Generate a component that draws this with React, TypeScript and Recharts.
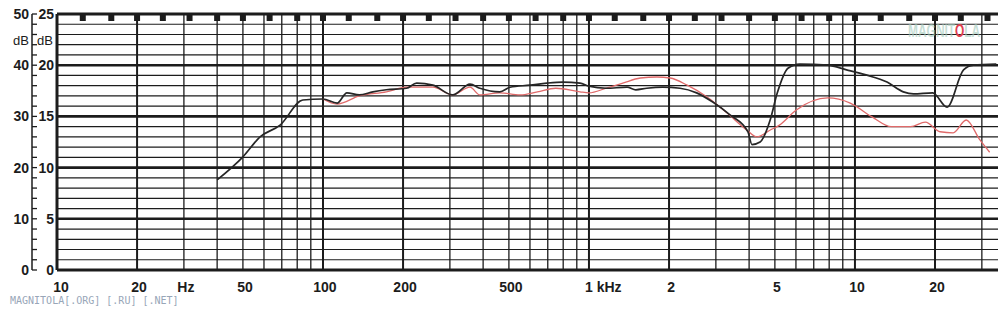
import { LineChart, Line, XAxis, YAxis, ReferenceLine } from "recharts";

// black trace (Hz / dB)
const blackHz = [40, 50, 58, 69, 84, 100, 113, 123, 137, 154, 173, 206, 225, 259, 307, 357, 389, 462, 505, 600, 695, 798, 925, 1000, 1160, 1390, 1500, 1650, 1890, 2200, 2540, 2920, 3390, 3960, 4100, 4400, 4800, 5100, 5600, 6200, 7900, 9300, 11000, 13200, 15200, 16600, 19600, 22200, 25600, 27900, 34000];
const blackDb = [17.6, 22.1, 26, 28.3, 33.2, 33.4, 32.6, 34.6, 34.2, 34.8, 35.2, 35.5, 36.5, 36.1, 34.2, 36.3, 35.5, 34.8, 35.7, 36.1, 36.5, 36.7, 36.5, 35.9, 35.5, 35.7, 35.2, 35.5, 35.7, 35.5, 34.6, 32.8, 30.3, 27, 24.5, 25, 29.3, 34.5, 39.4, 40.2, 40, 39.1, 38.1, 36.7, 34.8, 34.4, 34.6, 31.8, 39.1, 40, 40.2];

// red trace
const redHz = [100, 113, 137, 173, 206, 259, 307, 357, 389, 462, 550, 640, 750, 925, 1000, 1160, 1340, 1560, 1800, 2020, 2340, 2780, 3300, 3930, 4280, 4790, 5200, 6000, 7900, 9600, 11600, 13700, 16200, 18400, 20900, 23400, 26200, 29500, 32100];
const redDb = [33.4, 32.4, 34, 34.8, 35.7, 35.7, 34.2, 35.7, 34.2, 34.6, 34.2, 34.8, 35.5, 34.8, 34.6, 35.5, 36.5, 37.5, 37.7, 37.5, 36.1, 33.8, 30.7, 27.3, 26, 27.3, 28.3, 31.2, 33.6, 32.6, 29.9, 28, 28, 28.9, 27, 26.8, 29.3, 25.4, 23];

const freqTicks = [10, 20, 30, 50, 100, 200, 500, 1000, 2000, 5000, 10000, 20000];
const freqLabels = ["10", "20", "Hz", "50", "100", "200", "500", "1 kHz", "2", "5", "10", "20"];

const gridHz = [
  10, 20, 30, 40, 50, 60, 70, 80, 90,
  100, 200, 300, 400, 500, 600, 700, 800, 900,
  1000, 2000, 3000, 4000, 5000, 6000, 7000, 8000, 9000,
  10000, 20000, 30000,
];
const boldHz = [10, 20, 100, 200, 1000, 2000, 10000, 20000];
const thirdOctaveHz = [12.5, 16, 20, 25, 31.5, 40, 50, 63, 80, 100, 125, 160, 200, 250, 315, 400, 500, 630, 800, 1000, 1250, 1600, 2000, 2500, 3150, 4000, 5000, 6300, 8000, 10000, 12500, 16000, 20000, 25000, 31500];

const dbLines = [0, 2, 4, 6, 8, 10, 12, 14, 16, 18, 20, 22, 24, 26, 28, 30, 32, 34, 36, 38, 40, 42, 44, 46, 48, 50];
const dbTicks = [...dbLines, 45];

const blackData = blackHz.map((f, i) => ({ f, db: blackDb[i] }));
const redData = redHz.map((f, i) => ({ f, db: redDb[i] }));

const ink = "#1c1c1c";
const labelFont = "'Liberation Sans', Arial, sans-serif";

const FreqTick = (props: any) => {
  const { x, y, payload } = props;
  const label = freqLabels[freqTicks.indexOf(payload.value)];
  const isK = label === "1 kHz";
  const dx = isK ? -4 : payload.value === 10 ? 4 : 2;
  return (
    <text x={x + dx} y={y + 22} textAnchor={isK ? "start" : "middle"} fontSize={14} fontWeight="bold" fontFamily={labelFont} fill={ink}>
      {label}
    </text>
  );
};

const ThirdMark = (props: any) => {
  const { x, y } = props;
  return <rect x={x - 3} y={y + 1} width={6} height={6} fill={ink} />;
};

// outer ruler: 50/40/30.. scale and tick marks
const RulerTick = (props: any) => {
  const { x, y, payload } = props;
  const v = payload.value;
  if (v === 45) {
    return (
      <text x={x - 3} y={y + 5} textAnchor="end" fontSize={13} fontFamily={labelFont} fill={ink}>dB</text>
    );
  }
  return (
    <g>
      <line x1={x} x2={x + 5} y1={y} y2={y} stroke={ink} strokeWidth={1.3} />
      {v % 10 === 0 && (
        <text x={x - 3} y={y + 5} textAnchor="end" fontSize={14} fontWeight="bold" fontFamily={labelFont} fill={ink}>
          {v}
        </text>
      )}
    </g>
  );
};

// inner scale: 25/20/15.. (half values)
const HalfTick = (props: any) => {
  const { x, y, payload } = props;
  const v = payload.value;
  if (v === 45) {
    return (
      <text x={x - 4} y={y + 5} textAnchor="end" fontSize={13} fontFamily={labelFont} fill={ink}>dB</text>
    );
  }
  if (v % 10 !== 0) return <g />;
  return (
    <text x={x - 3} y={y + 5} textAnchor="end" fontSize={14} fontWeight="bold" fontFamily={labelFont} fill={ink}>
      {v / 2}
    </text>
  );
};

export default function App() {
  return (
    <div style={{ position: "absolute", left: 0, top: 0, width: 1008, height: 312, background: "#fff" }}>
      <LineChart width={1008} height={312} margin={{ top: 13, right: 10, bottom: 0, left: 0 }}>
        <XAxis
          xAxisId="f"
          type="number"
          dataKey="f"
          scale="log"
          domain={[10, 34500]}
          allowDataOverflow
          ticks={freqTicks}
          interval={0}
          tick={<FreqTick />}
          tickLine={false}
          axisLine={false}
          tickSize={0}
          tickMargin={0}
          height={42}
        />
        <XAxis
          xAxisId="top"
          orientation="top"
          type="number"
          dataKey="f"
          scale="log"
          domain={[10, 34500]}
          allowDataOverflow
          ticks={thirdOctaveHz}
          interval={0}
          tick={<ThirdMark />}
          tickLine={false}
          axisLine={false}
          tickSize={0}
          tickMargin={0}
          height={1}
        />
        <YAxis
          yAxisId="db"
          type="number"
          domain={[0, 50]}
          ticks={dbTicks}
          interval={0}
          width={25}
          tick={<HalfTick />}
          tickLine={false}
          axisLine={false}
          tickSize={0}
          tickMargin={0}
        />
        <YAxis
          yAxisId="ruler"
          type="number"
          domain={[0, 50]}
          ticks={dbTicks}
          interval={0}
          width={32}
          tick={<RulerTick />}
          tickLine={false}
          axisLine={{ stroke: ink, strokeWidth: 1.5 }}
          tickSize={0}
          tickMargin={0}
        />
        {dbLines.map((v) => (
          <ReferenceLine
            key={"h" + v}
            xAxisId="f"
            yAxisId="db"
            y={v}
            stroke={ink}
            strokeWidth={v === 0 || v === 50 ? 3 : v % 10 === 0 ? 2.6 : 1.2}
          />
        ))}
        {gridHz.map((f) => (
          <ReferenceLine
            key={"v" + f}
            xAxisId="f"
            yAxisId="db"
            x={f}
            stroke={ink}
            strokeWidth={f === 10 ? 3 : boldHz.includes(f) ? 2 : 1.3}
          />
        ))}
        <Line
          xAxisId="top"
          yAxisId="ruler"
          data={redData}
          dataKey="db"
          type="monotone"
          stroke="#e06a6a"
          strokeWidth={1.3}
          dot={false}
          isAnimationActive={false}
        />
        <Line
          xAxisId="f"
          yAxisId="db"
          data={blackData}
          dataKey="db"
          type="monotone"
          stroke="#262626"
          strokeWidth={1.7}
          dot={false}
          isAnimationActive={false}
        />
      </LineChart>
      <div style={{ position: "absolute", left: 10, top: 295, fontFamily: "'DejaVu Sans Mono', monospace", fontSize: 10, color: "#98a6b8", whiteSpace: "nowrap" }}>
        MAGNITOLA[.ORG] [.RU] [.NET]
      </div>
      <div style={{ position: "absolute", left: 908, top: 20, fontFamily: labelFont, fontWeight: "bold", fontSize: 13, color: "rgba(160,200,185,0.6)", whiteSpace: "nowrap", transform: "scale(0.92, 1.4)", transformOrigin: "left top" }}>
        MAGNIT<span style={{ color: "#e04050" }}>O</span>LA
      </div>
    </div>
  );
}
